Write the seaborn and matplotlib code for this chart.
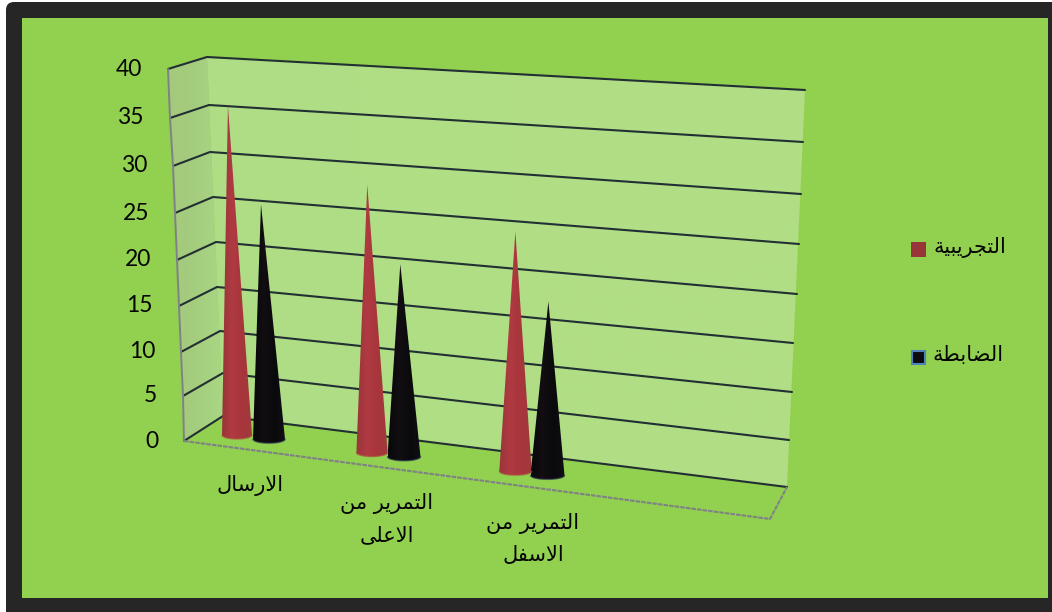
import numpy as np
import matplotlib
matplotlib.use("Agg")
import matplotlib.pyplot as plt
from matplotlib.patches import Polygon, Rectangle, FancyBboxPatch
import seaborn as sns

# ---------- data ----------
categories = ["الارسال", "التمرير من\nالاعلى", "التمرير من\nالاسفل"]
series_names = ["التجريبية", "الضابطة"]
experimental = [35, 28.5, 25.5]
control = [25, 20.5, 18.5]
ticks = [0, 5, 10, 15, 20, 25, 30, 35, 40]

# ---------- layout of the projected 3D box (pixels) ----------
front_x = [184, 183, 181, 179, 177, 175, 173, 170, 168]
front_y = [441, 396, 352, 306, 260, 213, 166, 118, 69]
back_x = [223, 223, 220, 217, 216, 213, 210, 209, 207]
back_y = [416, 373, 331, 287, 242, 197, 152, 105, 57]
right_x = [787, 789, 792, 793, 797, 799, 801, 803, 805]
right_y = [487, 440, 392, 343, 294, 244, 194, 142, 90]
floor_corner = (770, 519)
cat_x = [253, 388, 531.5]
label_y = [[485], [504, 535], [524, 555]]
label_x = [250, 387, 533]
PX_PER_UNIT = 9.4
FLOOR_SLOPE = 0.13

sns.set_theme(style="white")
red_c, black_c = sns.color_palette(["#A8343B", "#0D0C10"])

# ---------- minimal Arabic shaping (matplotlib draws left-to-right, unjoined) ----------
FORMS = {
    "ا": (0xFE8D, 0xFE8E), "ر": (0xFEAD, 0xFEAE), "ة": (0xFE93, 0xFE94), "ى": (0xFEEF, 0xFEF0),
    "ل": (0xFEDD, 0xFEDE, 0xFEDF, 0xFEE0), "ت": (0xFE95, 0xFE96, 0xFE97, 0xFE98),
    "م": (0xFEE1, 0xFEE2, 0xFEE3, 0xFEE4), "ي": (0xFEF1, 0xFEF2, 0xFEF3, 0xFEF4),
    "ن": (0xFEE5, 0xFEE6, 0xFEE7, 0xFEE8), "ع": (0xFEC9, 0xFECA, 0xFECB, 0xFECC),
    "س": (0xFEB1, 0xFEB2, 0xFEB3, 0xFEB4), "ف": (0xFED1, 0xFED2, 0xFED3, 0xFED4),
    "ج": (0xFE9D, 0xFE9E, 0xFE9F, 0xFEA0), "ب": (0xFE8F, 0xFE90, 0xFE91, 0xFE92),
    "ض": (0xFEBD, 0xFEBE, 0xFEBF, 0xFEC0), "ط": (0xFEC1, 0xFEC2, 0xFEC3, 0xFEC4),
}


def shape(text):
    out = []
    i = 0
    n = len(text)
    while i < n:
        ch = text[i]
        if ch not in FORMS:
            out.append(ch)
            i += 1
            continue
        prev = text[i - 1] if i else " "
        joined_prev = prev in FORMS and len(FORMS[prev]) == 4
        if ch == "ل" and i + 1 < n and text[i + 1] == "ا":
            out.append(chr(0xFEFC if joined_prev else 0xFEFB))
            i += 2
            continue
        nxt = text[i + 1] if i + 1 < n else " "
        joined_next = len(FORMS[ch]) == 4 and nxt in FORMS
        idx = (1 if joined_prev else 0) + (2 if joined_next else 0)
        out.append(chr(FORMS[ch][idx]))
        i += 1
    return "".join(reversed(out))


# ---------- figure ----------
fig = plt.figure(figsize=(10.52, 6.12), dpi=100, facecolor="white")
ax = fig.add_axes([0, 0, 1, 1])
ax.set_xlim(0, 1052)
ax.set_ylim(612, 0)
ax.axis("off")

ax.add_patch(FancyBboxPatch((12, 8), 1060, 620, boxstyle="round,pad=6,rounding_size=8",
                            fc="#262626", ec="none", zorder=0))
ax.add_patch(Rectangle((22, 18), 1026, 580, fc="#92D050", ec="none", zorder=1))


def gradient_fill(pts, stops, z):
    pts = np.asarray(pts)
    xs, ys = pts[:, 0], pts[:, 1]
    cols = np.array([matplotlib.colors.to_rgb(c) for c in stops])
    t = np.linspace(0, 1, 64)
    arr = np.stack([np.interp(t, np.linspace(0, 1, len(stops)), cols[:, k]) for k in range(3)], axis=-1)
    im = ax.imshow(arr[None, :, :], extent=(xs.min(), xs.max(), ys.max(), ys.min()), aspect="auto",
                   interpolation="bilinear", zorder=z)
    im.set_clip_path(Polygon(pts, closed=True, transform=ax.transData))


# walls
gradient_fill([(back_x[-1], back_y[-1]), (right_x[-1], right_y[-1]), (right_x[0], right_y[0]), (back_x[0], back_y[0])],
              ["#AFDD85", "#B1DF85", "#B1DE85"], 2)
gradient_fill([(front_x[-1], front_y[-1]), (back_x[-1], back_y[-1]), (back_x[0], back_y[0]), (front_x[0], front_y[0])],
              ["#A4C97C", "#A5CD7E", "#A9D784"], 2)
ax.set_xlim(0, 1052)
ax.set_ylim(612, 0)

# grid lines
grid_c = "#222F33"
for k in range(len(ticks)):
    ax.plot([front_x[k], back_x[k], right_x[k]], [front_y[k], back_y[k], right_y[k]],
            color=grid_c, lw=1.5, solid_joinstyle="round", zorder=3)

# box outline
edge_c = "#7F8285"
ax.plot(front_x, front_y, color=edge_c, lw=1.4, zorder=3)
ax.plot([front_x[0], floor_corner[0], right_x[0]], [front_y[0], floor_corner[1], right_y[0]],
        color=edge_c, lw=1.5, ls=(0, (2.2, 0.5)), zorder=3)


# cones
def cone(x, value, half, stops, edge):
    base_y = 435 + (x - 237) * FLOOR_SLOPE
    apex = (x + (x - 520) * 0.032, base_y - value * PX_PER_UNIT)
    th = np.linspace(np.pi, 0, 30)
    arc = np.column_stack([x + half * np.cos(th), base_y + 4 * np.sin(th)])
    pts = np.vstack([[apex], arc])
    gradient_fill(pts, stops, 4)
    ax.plot(arc[:, 0], arc[:, 1], color=edge, lw=1.0, alpha=0.7, zorder=5)


red_stops = ["#98353A", "#B03A42", "#A8363C", "#A03A3C"]
black_stops = ["#08080A", "#120E12", "#0A0A0C", "#0E0E14"]
for i in range(len(categories)):
    half_r = 15 + 0.6 * i
    half_b = 16 + 0.5 * i
    cone(cat_x[i] - 16, experimental[i], half_r, red_stops, "#B0553F")
    cone(cat_x[i] + 16, control[i], half_b, black_stops, "#2A3050")

# tick labels
for k, t in enumerate(ticks):
    ax.text(front_x[k] - 26, front_y[k], str(t), ha="right", va="center",
            family="Lato", fontsize=16.5, color="#050505", zorder=6)

# category labels
for i, c in enumerate(categories):
    for line, y in zip(c.split("\n"), label_y[i]):
        ax.text(label_x[i], y, shape(line), ha="center", va="center",
                family="DejaVu Sans", fontsize=15, color="#050505", zorder=6)

# legend
ax.add_patch(Rectangle((911, 242), 15, 15, fc="#983538", ec="none", zorder=6))
ax.text(970, 247, shape(series_names[0]), ha="center", va="center",
        family="DejaVu Sans", fontsize=15, color="#050505", zorder=6)
ax.add_patch(Rectangle((912, 351), 13, 13, fc="#0B0B0D", ec="#4F81BD", lw=1.5, zorder=6))
ax.text(968, 355, shape(series_names[1]), ha="center", va="center",
        family="DejaVu Sans", fontsize=15, color="#050505", zorder=6)

fig.savefig("out.png", dpi=100)
